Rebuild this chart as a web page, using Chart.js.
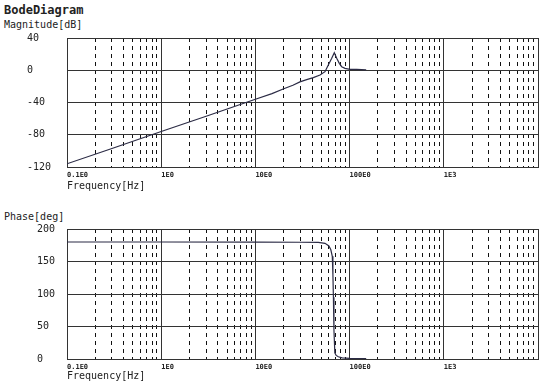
<!DOCTYPE html>
<html lang="en">
<head>
  <meta charset="UTF-8" />
  <title>BodeDiagram</title>
  <style>
    body, html {
      margin: 0;
      padding: 0;
      background: #fff;
      font-family: 'DejaVu Sans Mono', monospace;
    }
    .wrap {
      position: relative;
      width: 550px;
      height: 391px;
      overflow: hidden;
    }
    .lbl {
      position: absolute;
      left: 4px;
      font-size: 10px;
      color: #222;
      white-space: nowrap;
    }
    .title {
      font-weight: bold;
      font-size: 12px;
      top: 3px;
    }
    canvas {
      position: absolute;
      left: 0;
    }
  </style>
</head>
<body>
<div class="wrap">
  <div class="lbl title">BodeDiagram</div>
  <div class="lbl" style="top:19px">Magnitude[dB]</div>
  <div class="lbl" style="top:211px">Phase[deg]</div>
  <canvas id="magChart" width="550" height="195" style="top:0"></canvas>
  <canvas id="phaseChart" width="550" height="196" style="top:195px"></canvas>
</div>

<script src="https://cdn.jsdelivr.net/npm/chart.js"></script>
<script>
  // values
  const magFreq = [0.1, 0.3, 1, 3, 10, 15, 20, 25, 29.7, 35, 41.2, 48.5, 54.8, 59.4, 64.6, 68.8, 73, 77.8, 82.4, 89.3, 101, 119, 150];
  const magDb   = [-116, -97, -76, -57, -36, -29, -23, -18.6, -14.4, -11.7, -9.2, -5.9, -1.8, 6.5, 14.8, 21.8, 14.8, 8.6, 4.4, 2.4, 1.2, 1.0, 0.5];

  const phaseFreq = [0.1, 1, 10, 30, 46.5, 54.8, 60.3, 63.2, 65.5, 66.5, 67.3, 68.2, 69.7, 72, 75.9, 83.5, 100, 150];
  const phaseDeg  = [180, 180, 179.8, 179.6, 179.4, 178, 174, 168, 158, 130, 95, 45, 9.5, 5.5, 3.4, 1.8, 1, 0.5];

  const decades = [0.1, 1, 10, 100, 1000, 10000];
  const decadeLabels = ['0.1E0', '1E0', '10E0', '100E0', '1E3', ''];
  const minorSteps = [2, 3, 4, 5, 6, 7, 8, 9];

  const magTicks = [40, 0, -40, -80, -120];
  const phaseTicks = [200, 150, 100, 50, 0];

  function freqTicks() {
    const out = [];
    decades.forEach(function (d, i) {
      out.push({ value: d, major: true, label: decadeLabels[i] });
      if (i < decades.length - 1) {
        minorSteps.forEach(function (m) {
          out.push({ value: +(m * d).toPrecision(6), major: false, label: '' });
        });
      }
    });
    return out;
  }

  function makeChart(id, freq, vals, yTicks, leftPad, yWidth, topPad, xHeight, titlePad) {
    const points = freq.map(function (f, i) { return { x: f, y: vals[i] }; });
    return new Chart(document.getElementById(id).getContext('2d'), {
      type: 'line',
      data: {
        datasets: [{
          data: points,
          borderColor: '#2b2b45',
          borderWidth: 1.2,
          pointRadius: 0,
          tension: 0,
          fill: false
        }]
      },
      options: {
        responsive: false,
        animation: false,
        layout: { padding: { left: leftPad, top: topPad, right: 12, bottom: 0 } },
        plugins: { legend: { display: false }, tooltip: { enabled: false } },
        scales: {
          x: {
            type: 'logarithmic',
            min: 0.1,
            max: 10000,
            afterBuildTicks: function (axis) { axis.ticks = freqTicks(); },
            afterFit: function (axis) { axis.height = xHeight; },
            ticks: {
              autoSkip: false,
              maxRotation: 0,
              align: 'start',
              padding: 4,
              color: '#222',
              font: { family: 'DejaVu Sans Mono', size: 7, weight: 'bold' },
              callback: function (v, i, ticks) { return ticks[i].label; }
            },
            grid: {
              drawTicks: false,
              color: function (c) { return c.tick && c.tick.major ? '#333' : '#111'; },
              lineWidth: 1
            },
            border: {
              color: '#333',
              width: 1,
              dash: function (c) { return c.tick && !c.tick.major ? [4, 4] : []; }
            },
            title: {
              display: true,
              text: 'Frequency[Hz]',
              align: 'start',
              color: '#222',
              padding: { top: 0, bottom: titlePad },
              font: { family: 'DejaVu Sans Mono', size: 10 }
            }
          },
          y: {
            min: yTicks[yTicks.length - 1],
            max: yTicks[0],
            afterBuildTicks: function (axis) {
              axis.ticks = yTicks.map(function (v) { return { value: v }; });
            },
            afterFit: function (axis) { axis.width = yWidth; },
            ticks: {
              crossAlign: 'far',
              color: '#222',
              font: { family: 'DejaVu Sans Mono', size: 10 }
            },
            grid: { drawTicks: false, color: '#333', lineWidth: 1 },
            border: { color: '#333', width: 1 }
          }
        }
      }
    });
  }

  makeChart('magChart', magFreq, magDb, magTicks, 27, 40, 38, 28, 3);
  makeChart('phaseChart', phaseFreq, phaseDeg, phaseTicks, 37, 30, 34, 32, 9);
</script>
</body>
</html>
